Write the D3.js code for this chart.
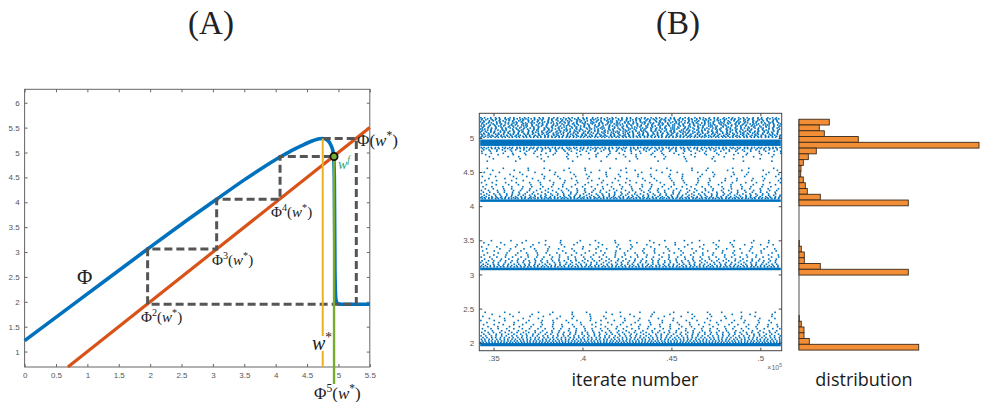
<!DOCTYPE html>
<html>
<head>
<meta charset="utf-8">
<script src="https://cdn.jsdelivr.net/npm/d3@7"></script>
<style>
  html, body { margin: 0; padding: 0; background: #fff; }
  svg { display: block; }
  .tick text { font-family: "Liberation Sans", Arial, sans-serif; font-size: 8px; }
</style>
</head>
<body>
<svg id="fig" width="984" height="402"></svg>
<script>
// ── Panel A data: the map Φ, the diagonal and the cobweb ─────────────────
const phiX = [0, 1, 1.96, 2.5, 3.06, 3.5, 3.8, 4.07, 4.3, 4.45, 4.6, 4.7, 4.75, 4.82, 4.88, 4.92, 4.935, 4.945, 4.96, 4.99, 5.05, 5.5];
const phiY = [1.22, 2.16, 3.06, 3.56, 4.06, 4.45, 4.70, 4.91, 5.07, 5.16, 5.24, 5.275, 5.28, 5.25, 5.15, 4.98, 4.5, 2.6, 2.05, 1.96, 1.95, 1.95];
const diagX = [0.69, 5.5];
const cobX = [4.75, 5.285, 5.285, 1.96, 1.96, 3.06, 3.06, 4.07, 4.07, 4.93];
const cobY = [5.28, 5.28, 1.95, 1.95, 3.06, 3.06, 4.06, 4.06, 4.92, 4.92];
const wStar = 4.75, wStarTop = 5.28;
const wFix = 4.93, wFixY = 4.92;
const aTicksX = [0, 0.5, 1, 1.5, 2, 2.5, 3, 3.5, 4, 4.5, 5, 5.5];
const aTicksY = [1, 1.5, 2, 2.5, 3, 3.5, 4, 4.5, 5, 5.5, 6];

// ── Panel B data: iterates (×10^5) and their distribution ────────────────
const bTicksX = [0.35, 0.40, 0.45, 0.50];
const bTicksY = [2, 2.5, 3, 3.5, 4, 4.5, 5];
// solid orbit bands [low, high]
const orbitBands = [[4.883, 4.977], [4.063, 4.10], [3.062, 3.10], [1.948, 1.995]];
// dotted rows of iterates: [level, cycle of spacings (iterations ×10^5), start offset]
const dotRows = [
  [5.295, [.0021, .0034, .0027], .0004], [5.280, [.0030, .0019], .0012],
  [5.265, [.0025, .0036, .0018], .0007], [5.250, [.0033, .0022], .0019],
  [5.235, [.0020, .0029, .0041], .0002], [5.220, [.0031, .0017], .0015],
  [5.205, [.0026, .0038, .0021], .0009], [5.190, [.0036, .0023], .0021],
  [5.175, [.0019, .0028, .0033], .0005], [5.160, [.0029, .0042], .0017],
  [5.145, [.0033, .0020, .0026], .0011], [5.130, [.0023, .0037], .0003],
  [5.115, [.0028, .0018, .0040], .0014], [5.100, [.0021, .0032], .0008],
  [5.085, [.0035, .0024, .0019], .0001], [5.070, [.0026, .0030], .0020],
  [5.055, [.0018, .0027, .0036], .0006], [5.040, [.0031, .0022], .0013],
  [5.025, [.0020, .0025, .0017], .0010], [5.010, [.0017, .0023], .0004],
  [4.860, [.0016, .0024], .0006], [4.845, [.0022, .0031, .0018], .0013],
  [4.825, [.0030, .0045], .0020], [4.805, [.0048, .0036], .0009],
  [4.775, [.0052, .0068], .0010], [4.755, [.0070, .0085], .0031],
  [4.725, [.0105, .0060], .0052], [4.695, [.0150, .0120], .0074], [4.660, [.0160], .0040],
  [4.555, [.0090, .0140], .0040], [4.525, [.0120, .0080], .0071],
  [4.495, [.0085, .0115], .0023], [4.465, [.0110, .0070], .0058],
  [4.435, [.0075, .0100], .0012], [4.405, [.0090, .0065], .0049],
  [4.375, [.0065, .0085], .0027], [4.345, [.0060, .0075], .0008],
  [4.315, [.0055, .0070], .0035], [4.285, [.0050, .0062], .0016],
  [4.255, [.0045, .0058], .0029], [4.230, [.0040, .0050], .0007],
  [4.205, [.0036, .0046], .0018], [4.180, [.0032, .0040], .0005],
  [4.160, [.0028, .0036], .0022], [4.140, [.0024, .0031], .0010],
  [4.125, [.0020, .0026], .0003], [4.113, [.0016, .0021], .0012],
  [3.495, [.0110, .0085], .0063], [3.465, [.0095, .0120], .0021],
  [3.435, [.0090, .0070], .0047], [3.405, [.0085, .0105], .0009],
  [3.375, [.0075, .0060], .0036], [3.345, [.0065, .0085], .0014],
  [3.315, [.0060, .0050], .0041], [3.285, [.0055, .0068], .0022],
  [3.255, [.0048, .0040], .0006], [3.225, [.0042, .0052], .0025],
  [3.200, [.0036, .0030], .0011], [3.175, [.0031, .0038], .0003],
  [3.150, [.0026, .0032], .0017], [3.130, [.0022, .0027], .0008],
  [3.112, [.0017, .0021], .0002],
  [2.445, [.0110, .0080], .0028], [2.415, [.0100, .0125], .0067],
  [2.385, [.0095, .0075], .0015], [2.355, [.0085, .0105], .0052],
  [2.325, [.0075, .0060], .0004], [2.295, [.0068, .0085], .0038],
  [2.265, [.0060, .0050], .0019], [2.235, [.0055, .0066], .0044],
  [2.205, [.0048, .0040], .0013], [2.175, [.0042, .0052], .0027],
  [2.150, [.0036, .0030], .0009], [2.125, [.0031, .0038], .0021],
  [2.100, [.0026, .0032], .0005], [2.075, [.0022, .0027], .0016],
  [2.050, [.0019, .0024], .0007], [2.025, [.0016, .0020], .0012],
  [2.003, [.0015, .0018], .0002]
];
// histogram of iterates, 40 bins from top (5.274) to bottom (1.892)
const histTop = 5.274, histBottom = 1.892;
const histCounts = [
  303, 203, 253, 593, 1800, 173, 93, 43, 20, 17, 43, 63, 83, 213, 1093,
  0, 0, 0, 0, 0, 0,
  3, 23, 53, 53, 213, 1093,
  0, 0, 0, 0, 0, 0, 0,
  3, 23, 50, 50, 103, 1197
];

const svg = d3.select('#fig');
const SERIF = '"Liberation Serif", "Times New Roman", serif';

// ── Helpers ──────────────────────────────────────────────────────────────
function mathText(g, x, y, parts, size, color) {
  const t = g.append('text')
    .attr('x', x).attr('y', y)
    .attr('font-family', SERIF)
    .attr('font-size', size)
    .attr('fill', color || '#222');
  parts.forEach(p => {
    const s = t.append('tspan').text(p.t);
    if (p.i) s.attr('font-style', 'italic');
    if (p.sup) s.attr('font-size', size * 0.68).attr('dy', -size * 0.42);
    if (p.down) s.attr('dy', size * 0.42);
  });
  return t;
}

// Φ^k(w*) pieces
function iterLabel(k) {
  const head = k ? [{ t: 'Φ' }, { t: String(k), sup: true }, { t: '(', down: true }] : [{ t: 'Φ(' }];
  return head.concat([{ t: 'w', i: true }, { t: '*', sup: true }, { t: ')', down: true }]);
}

function boxAxes(g, x, y, tx, ty, fmtX, fmtY, color) {
  const [x0, x1] = x.range(), [y1, y0] = y.range();
  const style = a => {
    a.select('.domain').remove();
    a.selectAll('.tick line').attr('stroke', color);
    a.selectAll('.tick text').attr('fill', '#555');
  };
  g.append('g').attr('transform', `translate(0,${y1})`)
    .call(d3.axisBottom(x).tickValues(tx).tickSize(-3).tickPadding(5).tickFormat(fmtX)).call(style);
  g.append('g').attr('transform', `translate(0,${y0})`)
    .call(d3.axisTop(x).tickValues(tx).tickSize(-3).tickFormat('')).call(style);
  g.append('g').attr('transform', `translate(${x0},0)`)
    .call(d3.axisLeft(y).tickValues(ty).tickSize(-3).tickPadding(5).tickFormat(fmtY)).call(style);
  g.append('g').attr('transform', `translate(${x1},0)`)
    .call(d3.axisRight(y).tickValues(ty).tickSize(-3).tickFormat('')).call(style);
  g.append('rect')
    .attr('x', x0).attr('y', y0).attr('width', x1 - x0).attr('height', y1 - y0)
    .attr('fill', 'none').attr('stroke', color).attr('stroke-width', 1);
}

// ── Titles ───────────────────────────────────────────────────────────────
[['(A)', 211], ['(B)', 678]].forEach(([t, x]) => {
  svg.append('text').attr('x', x).attr('y', 34)
    .attr('text-anchor', 'middle')
    .attr('font-family', SERIF)
    .attr('font-size', 33).attr('fill', '#222').text(t);
});

// ── Panel A ──────────────────────────────────────────────────────────────
function drawPanelA() {
  const g = svg.append('g');
  const x = d3.scaleLinear().domain([0, 5.5]).range([24.6, 369.8]);
  const y = d3.scaleLinear().domain([0.69, 6.27]).range([367, 89.3]);

  boxAxes(g, x, y, aTicksX, aTicksY, d => String(d), d => String(d), '#666');

  const line = d3.line().x(d => x(d[0])).y(d => y(d[1]));
  const smooth = d3.line().x(d => x(d[0])).y(d => y(d[1])).curve(d3.curveMonotoneX);

  // diagonal
  g.append('path')
    .attr('d', line(diagX.map(v => [v, v])))
    .attr('fill', 'none').attr('stroke', '#D95319').attr('stroke-width', 3.2);

  // Φ
  g.append('path')
    .attr('d', smooth(phiX.map((v, i) => [v, phiY[i]])))
    .attr('fill', 'none').attr('stroke', '#0072BD').attr('stroke-width', 3.6);

  // cobweb
  g.append('path')
    .attr('d', line(cobX.map((v, i) => [v, cobY[i]])))
    .attr('fill', 'none').attr('stroke', '#555').attr('stroke-width', 3)
    .attr('stroke-dasharray', '8,4');

  // w* line (broken behind its label)
  g.append('line')
    .attr('x1', x(wStar)).attr('x2', x(wStar))
    .attr('y1', y(wStarTop)).attr('y2', 336)
    .attr('stroke', '#EDB120').attr('stroke-width', 2);
  g.append('line')
    .attr('x1', x(wStar)).attr('x2', x(wStar))
    .attr('y1', 351).attr('y2', y(0.69))
    .attr('stroke', '#EDB120').attr('stroke-width', 2);

  // Φ^5(w*) line
  g.append('line')
    .attr('x1', x(wFix)).attr('x2', x(wFix))
    .attr('y1', y(wFixY)).attr('y2', 384)
    .attr('stroke', '#77AC30').attr('stroke-width', 2.4);

  g.append('circle')
    .attr('cx', x(wFix)).attr('cy', y(wFixY)).attr('r', 3.6)
    .attr('fill', '#77AC30').attr('stroke', '#111').attr('stroke-width', 1.8);

  // labels
  mathText(g, 77, 284, [{ t: 'Φ' }], 21);
  mathText(g, 141, 322, iterLabel(2), 15);
  mathText(g, 212, 265, iterLabel(3), 15);
  mathText(g, 271, 217, iterLabel(4), 15);
  mathText(g, 357, 146, iterLabel(0), 17);
  mathText(g, 338, 169, [{ t: 'w', i: true }, { t: 'f', i: true, sup: true }], 14, '#2FA36B');
  mathText(g, 312, 350, [{ t: 'w', i: true }, { t: '*', sup: true }], 20);
  mathText(g, 314, 399, iterLabel(5), 17);
}

// ── Panel B: iterates ────────────────────────────────────────────────────
function drawPanelB() {
  const g = svg.append('g');
  const x = d3.scaleLinear().domain([0.342, 0.512]).range([479.3, 781.7]);
  const y = d3.scaleLinear().domain([1.883, 5.361]).range([350.7, 113.3]);

  const pts = [];
  dotRows.forEach(([lv, gaps, off]) => {
    let k = 0;
    for (let t = 0.3425 + off; t < 0.5115; t += gaps[k++ % gaps.length]) pts.push([t, lv]);
  });

  g.selectAll('.orbit-band')
    .data(orbitBands)
    .enter().append('rect')
    .attr('class', 'orbit-band')
    .attr('x', x(0.3425)).attr('width', x(0.5115) - x(0.3425))
    .attr('y', d => y(d[1])).attr('height', d => y(d[0]) - y(d[1]))
    .attr('fill', '#0072BD');

  g.selectAll('.iter')
    .data(pts)
    .enter().append('rect')
    .attr('class', 'iter')
    .attr('x', d => x(d[0]) - 0.8).attr('y', d => y(d[1]) - 0.8)
    .attr('width', 1.6).attr('height', 1.6)
    .attr('fill', '#0072BD');

  boxAxes(g, x, y, bTicksX, bTicksY, d => String(d).replace(/^0/, ''), d => String(d), '#444');

  const e = g.append('text').attr('x', 782).attr('y', 370).attr('text-anchor', 'end')
    .attr('font-family', '"Liberation Sans", Arial, sans-serif').attr('font-size', 7).attr('fill', '#666');
  e.append('tspan').text('×10');
  e.append('tspan').attr('font-size', 5).attr('dy', -3).text('5');

  svg.append('text').attr('x', 635).attr('y', 386).attr('text-anchor', 'middle')
    .attr('font-family', '"Open Sans", sans-serif').attr('font-size', 18).attr('fill', '#1a1a1a')
    .text('iterate number');

  return y;
}

// ── Panel B: distribution ────────────────────────────────────────────────
function drawHistogram(y) {
  const g = svg.append('g');
  const bw = (histTop - histBottom) / histCounts.length;
  const xh = d3.scaleLinear().domain([0, 1800]).range([799, 979]);

  g.append('line')
    .attr('x1', xh(0)).attr('x2', xh(0))
    .attr('y1', y(histTop)).attr('y2', y(histBottom))
    .attr('stroke', '#222').attr('stroke-width', 0.8);

  g.selectAll('.bar')
    .data(histCounts.map((c, i) => ({ c, hi: histTop - i * bw, lo: histTop - (i + 1) * bw })))
    .enter().filter(d => d.c > 0).append('rect')
    .attr('class', 'bar')
    .attr('x', xh(0)).attr('width', d => xh(d.c) - xh(0))
    .attr('y', d => y(d.hi)).attr('height', d => y(d.lo) - y(d.hi))
    .attr('fill', '#F28E35').attr('stroke', '#3a2a1c').attr('stroke-width', 0.9);

  svg.append('text').attr('x', 864).attr('y', 386).attr('text-anchor', 'middle')
    .attr('font-family', '"Open Sans", sans-serif').attr('font-size', 18).attr('fill', '#1a1a1a')
    .text('distribution');
}

drawPanelA();
const yB = drawPanelB();
drawHistogram(yB);
</script>
</body>
</html>
